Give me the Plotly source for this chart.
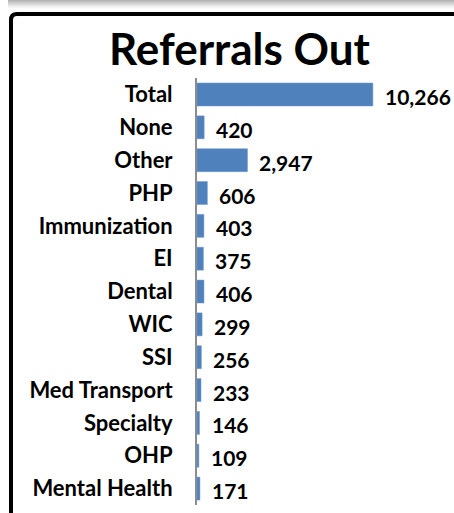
import plotly.graph_objects as go

categories = ["Total", "None", "Other", "PHP", "Immunization", "EI", "Dental",
              "WIC", "SSI", "Med Transport", "Specialty", "OHP", "Mental Health"]
values = [10266, 420, 2947, 606, 403, 375, 406, 299, 256, 233, 146, 109, 171]
value_labels = [f"{v:,}" for v in values]
title_text = "Referrals Out"

W, H = 454, 513
L, R, T, B = 197, 0, 78, 8
pw = W - L - R
ph = H - T - B

def px(x):
    return (x - L) / pw

def py(y):
    return 1 - (y - T) / ph

FONT = "Lato"

fig = go.Figure()
fig.add_trace(go.Bar(
    y=categories, x=values, orientation="h",
    marker=dict(color="#4F81BD", line=dict(color="#6f9bd0", width=0.5)),
    hoverinfo="skip",
))

for c, v, t in zip(categories, values, value_labels):
    fig.add_annotation(x=v, y=c, xref="x", yref="y", text=t,
                       showarrow=False, xanchor="left", yanchor="middle",
                       xshift=10, yshift=-2,
                       font=dict(family=FONT, size=21, color="#000000", weight="bold"))

# title
fig.add_annotation(x=px(240), y=py(48), xref="paper", yref="paper",
                   text=title_text, showarrow=False,
                   xanchor="center", yanchor="middle",
                   font=dict(family=FONT, size=44, color="#000000", weight="bold"))

shapes = []
# top shadow gradient band
grays = ["#b4b4b4", "#bebebe", "#c8c8c8", "#d2d2d2", "#dcdcdc", "#e6e6e6", "#efefef", "#f7f7f7", "#fcfcfc"]
for i, g in enumerate(grays):
    shapes.append(dict(type="rect", xref="paper", yref="paper",
                       x0=px(8), x1=px(W + 5), y0=py(i), y1=py(i + 1),
                       fillcolor=g, line=dict(width=0), layer="below"))
# frame with rounded corner
x0, y0, r = 11, 14, 6
path = (f"M {px(x0)} {py(H + 20)} L {px(x0)} {py(y0 + r)} "
        f"Q {px(x0)} {py(y0)} {px(x0 + r)} {py(y0)} L {px(W + 20)} {py(y0)}")
shapes.append(dict(type="path", xref="paper", yref="paper", path=path,
                   line=dict(color="#000000", width=4)))
fig.update_layout(shapes=shapes)

fig.update_layout(
    width=W, height=H,
    margin=dict(l=L, r=R, t=T, b=B, pad=0),
    paper_bgcolor="#ffffff", plot_bgcolor="#ffffff",
    showlegend=False, bargap=0.3,
    xaxis=dict(range=[0, 15000], visible=False, fixedrange=True),
    yaxis=dict(autorange="reversed", showgrid=False, zeroline=False,
               showline=True, linecolor="#8c8c8c", linewidth=2,
               ticks="", ticklabelstandoff=18,
               tickfont=dict(family=FONT, size=22, color="#000000", weight="bold"),
               fixedrange=True),
)

fig.write_html("out.html", config={"displayModeBar": False},
               post_script="document.body.style.margin='0';document.body.style.overflow='hidden';")
